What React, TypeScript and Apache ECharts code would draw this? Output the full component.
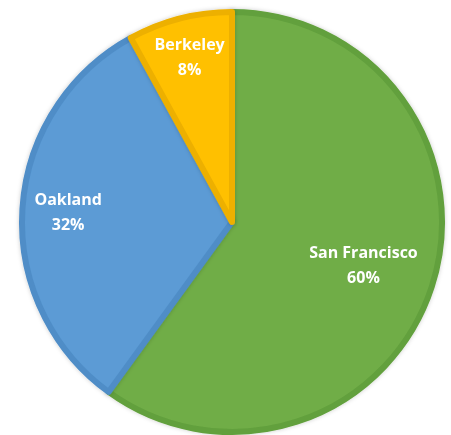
import React, { useEffect, useRef } from "react";
import * as echarts from "echarts";

const categories = ["San Francisco", "Oakland", "Berkeley"];
const values = [60, 32, 8];
const fillColors = ["#70AD47", "#5B9BD5", "#FFC000"];
const borderColors = ["#62A03D", "#4F8DC7", "#EDB000"];
// radial position of each label, as a fraction of the radius
const labelRadiusFactor = [0.64, 0.76, 0.79];

const CENTER: [number, number] = [232, 222];
const RADIUS = 210;

export default function App() {
  const ref = useRef<HTMLDivElement>(null);
  useEffect(() => {
    if (!ref.current) return;
    const chart = echarts.init(ref.current, null, { renderer: "svg" });
    const data = categories.map((name, i) => ({
      name,
      value: values[i],
      itemStyle: { color: fillColors[i], borderColor: borderColors[i] },
    }));
    chart.setOption({
      animation: false,
      series: [
        {
          type: "pie",
          center: CENTER,
          radius: RADIUS,
          startAngle: 90,
          clockwise: true,
          data,
          itemStyle: {
            borderWidth: 6,
            shadowBlur: 4,
            shadowColor: "rgba(0,0,0,0.2)",
          },
          label: {
            show: true,
            position: "inside",
            formatter: "{b}\n{d}%",
            color: "#ffffff",
            fontFamily: "Open Sans",
            fontWeight: "bold",
            fontSize: 16,
            lineHeight: 25,
            align: "center",
          },
          labelLine: { show: false },
          labelLayout: (params: any) => {
            const r = params.labelRect;
            const cx = r.x + r.width / 2;
            const cy = r.y + r.height / 2;
            const vx = cx - CENTER[0];
            const vy = cy - CENTER[1];
            const k = labelRadiusFactor[params.dataIndex] / 0.5 - 1;
            return { dx: vx * k, dy: vy * k };
          },
        },
      ],
    });
    return () => chart.dispose();
  }, []);
  return (
    <div
      ref={ref}
      style={{ position: "fixed", left: 0, top: 0, width: 451, height: 435 }}
    />
  );
}
